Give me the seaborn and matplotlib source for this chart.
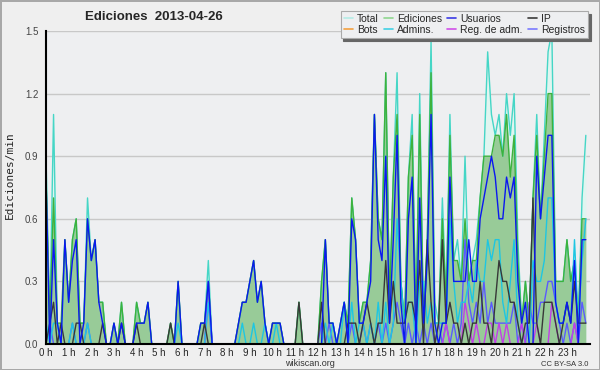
import numpy as np
import pandas as pd
import seaborn as sns
import matplotlib.pyplot as plt
from matplotlib.ticker import MultipleLocator, FixedLocator

# edits per minute, one value per 10 minute slot (144 slots)
total = [
    0.9, 0.1, 1.1, 0.1, 0.0, 0.5, 0.2, 0.5, 0.6, 0.1, 0.1, 0.7,
    0.4, 0.5, 0.2, 0.2, 0.0, 0.0, 0.1, 0.0, 0.2, 0.0, 0.0, 0.0,
    0.2, 0.1, 0.1, 0.2, 0.0, 0.0, 0.0, 0.0, 0.0, 0.1, 0.0, 0.3,
    0.0, 0.0, 0.0, 0.0, 0.0, 0.1, 0.1, 0.4, 0.0, 0.0, 0.0, 0.0,
    0.0, 0.0, 0.0, 0.1, 0.2, 0.2, 0.3, 0.4, 0.2, 0.3, 0.1, 0.0,
    0.1, 0.1, 0.1, 0.0, 0.0, 0.0, 0.0, 0.2, 0.0, 0.0, 0.0, 0.0,
    0.0, 0.3, 0.5, 0.1, 0.1, 0.0, 0.1, 0.2, 0.1, 0.7, 0.5, 0.1,
    0.2, 0.2, 0.4, 1.1, 0.6, 0.5, 1.3, 0.2, 0.8, 1.3, 0.3, 0.1,
    0.8, 1.1, 0.1, 1.2, 0.1, 0.5, 1.45, 0.2, 0.1, 0.7, 0.2, 1.1,
    0.4, 0.5, 0.3, 0.9, 0.3, 0.4, 0.5, 0.7, 0.9, 1.4, 1.1, 1.0,
    1.1, 0.9, 1.2, 1.0, 1.2, 0.5, 0.1, 0.3, 0.1, 0.7, 1.1, 0.6,
    1.0, 1.4, 1.5, 0.3, 0.3, 0.3, 0.5, 0.3, 0.4, 0.1, 0.7, 1.0,
]
ediciones = [
    0.8, 0.1, 0.7, 0.1, 0.1, 0.5, 0.2, 0.5, 0.6, 0.1, 0.1, 0.6,
    0.4, 0.5, 0.2, 0.2, 0.0, 0.0, 0.1, 0.0, 0.2, 0.0, 0.0, 0.0,
    0.2, 0.1, 0.1, 0.2, 0.0, 0.0, 0.0, 0.0, 0.0, 0.1, 0.0, 0.3,
    0.0, 0.0, 0.0, 0.0, 0.0, 0.1, 0.1, 0.3, 0.0, 0.0, 0.0, 0.0,
    0.0, 0.0, 0.0, 0.1, 0.2, 0.2, 0.3, 0.4, 0.2, 0.3, 0.1, 0.0,
    0.1, 0.1, 0.1, 0.0, 0.0, 0.0, 0.0, 0.2, 0.0, 0.0, 0.0, 0.0,
    0.0, 0.3, 0.5, 0.1, 0.1, 0.0, 0.1, 0.2, 0.1, 0.7, 0.5, 0.1,
    0.2, 0.2, 0.4, 1.1, 0.6, 0.5, 1.3, 0.2, 0.8, 1.1, 0.3, 0.1,
    0.8, 1.0, 0.1, 1.1, 0.1, 0.5, 1.3, 0.1, 0.1, 0.6, 0.2, 1.0,
    0.4, 0.4, 0.3, 0.6, 0.3, 0.4, 0.4, 0.7, 0.9, 0.9, 0.9, 1.0,
    1.0, 0.9, 1.1, 0.8, 1.0, 0.4, 0.1, 0.3, 0.1, 0.7, 1.0, 0.6,
    0.9, 1.2, 1.2, 0.3, 0.3, 0.3, 0.5, 0.3, 0.4, 0.1, 0.6, 0.6,
]
usuarios = [
    0.8, 0.0, 0.5, 0.1, 0.0, 0.5, 0.2, 0.4, 0.5, 0.0, 0.1, 0.6,
    0.4, 0.5, 0.2, 0.1, 0.0, 0.0, 0.1, 0.0, 0.1, 0.0, 0.0, 0.0,
    0.1, 0.1, 0.1, 0.2, 0.0, 0.0, 0.0, 0.0, 0.0, 0.0, 0.0, 0.3,
    0.0, 0.0, 0.0, 0.0, 0.0, 0.1, 0.1, 0.3, 0.0, 0.0, 0.0, 0.0,
    0.0, 0.0, 0.0, 0.1, 0.2, 0.2, 0.3, 0.4, 0.2, 0.3, 0.1, 0.0,
    0.1, 0.1, 0.1, 0.0, 0.0, 0.0, 0.0, 0.0, 0.0, 0.0, 0.0, 0.0,
    0.0, 0.0, 0.5, 0.1, 0.1, 0.0, 0.1, 0.2, 0.0, 0.6, 0.5, 0.1,
    0.1, 0.2, 0.3, 1.1, 0.5, 0.4, 0.9, 0.1, 0.5, 1.0, 0.2, 0.0,
    0.6, 0.8, 0.0, 0.7, 0.1, 0.4, 1.1, 0.1, 0.0, 0.1, 0.1, 0.8,
    0.3, 0.3, 0.3, 0.3, 0.5, 0.3, 0.3, 0.6, 0.7, 0.8, 0.9, 0.8,
    0.6, 0.6, 0.8, 0.7, 0.8, 0.3, 0.1, 0.2, 0.0, 0.0, 0.9, 0.6,
    0.8, 1.0, 1.0, 0.2, 0.1, 0.1, 0.2, 0.1, 0.4, 0.0, 0.5, 0.5,
]
ip = [
    0.0, 0.1, 0.2, 0.0, 0.1, 0.0, 0.0, 0.0, 0.1, 0.1, 0.0, 0.0,
    0.0, 0.0, 0.0, 0.1, 0.0, 0.0, 0.0, 0.0, 0.1, 0.0, 0.0, 0.0,
    0.1, 0.0, 0.0, 0.0, 0.0, 0.0, 0.0, 0.0, 0.0, 0.1, 0.0, 0.0,
    0.0, 0.0, 0.0, 0.0, 0.0, 0.0, 0.1, 0.0, 0.0, 0.0, 0.0, 0.0,
    0.0, 0.0, 0.0, 0.0, 0.0, 0.0, 0.0, 0.0, 0.0, 0.0, 0.0, 0.0,
    0.0, 0.0, 0.0, 0.0, 0.0, 0.0, 0.0, 0.2, 0.0, 0.0, 0.0, 0.0,
    0.0, 0.2, 0.0, 0.0, 0.0, 0.0, 0.0, 0.0, 0.1, 0.1, 0.1, 0.0,
    0.1, 0.2, 0.1, 0.0, 0.1, 0.1, 0.4, 0.1, 0.3, 0.1, 0.1, 0.1,
    0.2, 0.2, 0.1, 0.4, 0.0, 0.5, 0.2, 0.0, 0.1, 0.5, 0.1, 0.2,
    0.1, 0.1, 0.0, 0.1, 0.0, 0.1, 0.1, 0.3, 0.1, 0.1, 0.0, 0.2,
    0.4, 0.3, 0.3, 0.2, 0.2, 0.1, 0.0, 0.1, 0.1, 0.7, 0.1, 0.0,
    0.2, 0.2, 0.2, 0.1, 0.0, 0.1, 0.2, 0.1, 0.3, 0.1, 0.1, 0.1,
]
admins = [
    0.1, 0.0, 0.1, 0.1, 0.0, 0.0, 0.0, 0.1, 0.0, 0.0, 0.0, 0.1,
    0.0, 0.0, 0.0, 0.0, 0.0, 0.0, 0.0, 0.0, 0.0, 0.0, 0.0, 0.0,
    0.0, 0.0, 0.0, 0.0, 0.0, 0.0, 0.0, 0.0, 0.0, 0.0, 0.0, 0.1,
    0.0, 0.0, 0.0, 0.0, 0.0, 0.0, 0.0, 0.2, 0.0, 0.0, 0.0, 0.0,
    0.0, 0.0, 0.0, 0.0, 0.1, 0.0, 0.0, 0.1, 0.0, 0.0, 0.1, 0.0,
    0.0, 0.1, 0.0, 0.0, 0.0, 0.0, 0.0, 0.0, 0.0, 0.0, 0.0, 0.0,
    0.0, 0.0, 0.1, 0.0, 0.1, 0.0, 0.0, 0.2, 0.0, 0.2, 0.0, 0.1,
    0.1, 0.0, 0.1, 0.0, 0.2, 0.0, 0.2, 0.0, 0.1, 0.6, 0.3, 0.1,
    0.2, 0.2, 0.0, 0.3, 0.3, 0.1, 0.2, 0.1, 0.1, 0.1, 0.1, 0.6,
    0.3, 0.1, 0.2, 0.2, 0.3, 0.2, 0.4, 0.3, 0.3, 0.5, 0.4, 0.5,
    0.5, 0.2, 0.1, 0.3, 0.5, 0.1, 0.0, 0.0, 0.0, 0.4, 0.3, 0.3,
    0.4, 0.7, 0.7, 0.2, 0.1, 0.1, 0.2, 0.1, 0.5, 0.1, 0.4, 0.6,
]
registros = [
    0.0, 0.1, 0.0, 0.0, 0.0, 0.0, 0.0, 0.1, 0.0, 0.0, 0.0, 0.1,
    0.0, 0.0, 0.0, 0.0, 0.0, 0.0, 0.0, 0.0, 0.0, 0.0, 0.0, 0.0,
    0.0, 0.0, 0.0, 0.0, 0.0, 0.0, 0.0, 0.0, 0.0, 0.0, 0.0, 0.0,
    0.0, 0.0, 0.0, 0.0, 0.0, 0.0, 0.0, 0.3, 0.0, 0.0, 0.0, 0.0,
    0.0, 0.0, 0.0, 0.0, 0.0, 0.0, 0.0, 0.0, 0.0, 0.0, 0.0, 0.0,
    0.0, 0.0, 0.0, 0.0, 0.0, 0.0, 0.0, 0.0, 0.0, 0.0, 0.0, 0.0,
    0.0, 0.1, 0.0, 0.1, 0.0, 0.0, 0.0, 0.0, 0.0, 0.1, 0.0, 0.0,
    0.1, 0.0, 0.1, 0.0, 0.1, 0.0, 0.1, 0.0, 0.1, 0.2, 0.1, 0.0,
    0.1, 0.0, 0.1, 0.0, 0.1, 0.0, 0.1, 0.0, 0.1, 0.0, 0.1, 0.0,
    0.1, 0.0, 0.1, 0.5, 0.2, 0.1, 0.2, 0.1, 0.3, 0.1, 0.2, 0.1,
    0.1, 0.1, 0.1, 0.1, 0.2, 0.0, 0.1, 0.0, 0.2, 0.1, 0.1, 0.2,
    0.2, 0.3, 0.3, 0.2, 0.1, 0.0, 0.1, 0.0, 0.1, 0.0, 0.2, 0.1,
]
reg_adm = [0.0] * 144
for slot, v in [(43, 0.2), (106, 0.1), (111, 0.2), (112, 0.1), (114, 0.1),
                (117, 0.1), (118, 0.1), (120, 0.1), (122, 0.1), (126, 0.1),
                (130, 0.1), (134, 0.2), (135, 0.1), (140, 0.1)]:
    reg_adm[slot] = v
bots = [0.0] * 144

hour_labels = [f"{h} h" for h in range(24)]

df = pd.DataFrame({
    "hora": np.arange(0, 1440, 10) / 60,
    "Total": total, "Ediciones": ediciones, "Usuarios": usuarios, "IP": ip,
    "Bots": bots, "Admins.": admins, "Reg. de adm.": reg_adm, "Registros": registros,
})

colors = {
    "Total": "#45d6c6", "Ediciones": "#3db23d", "Usuarios": "#0a18f0",
    "IP": "#383838", "Bots": "#f0a030", "Admins.": "#1ec6e2",
    "Reg. de adm.": "#c23ee8", "Registros": "#5a5aff",
}
legend_colors = {
    "Total": "#b4ece6", "Ediciones": "#8fd68f", "Usuarios": "#3a3ae6",
    "IP": "#3a3a3a", "Bots": "#f4a040", "Admins.": "#40d0e4",
    "Reg. de adm.": "#d050e8", "Registros": "#7a7aff",
}

sns.set_style("white", {"axes.facecolor": "#eeeff1"})
plt.rcParams["font.family"] = ["Liberation Sans", "DejaVu Sans"]

fig = plt.figure(figsize=(6, 3.7), dpi=100, facecolor="#efefef")
ax = fig.add_axes([46 / 600, 1 - 344 / 370, 543.6 / 600, 313 / 370])

# filled areas first
ax.fill_between(df["hora"], df["Total"], color="#e0f5f0", lw=0, zorder=1)
ax.fill_between(df["hora"], df["Ediciones"], color="#98cb98", lw=0, zorder=1.5)

for name in ["Bots", "Total", "Ediciones", "Registros", "Reg. de adm.", "Admins.", "IP", "Usuarios"]:
    sns.lineplot(data=df, x="hora", y=name, ax=ax, color=colors[name],
                 linewidth=1.0, label=name, zorder=2)

ax.set_xlim(0, 24)
ax.set_ylim(0, 1.5)
ax.set_xlabel("")
ax.set_ylabel("")
ax.xaxis.set_major_locator(FixedLocator(range(24)))
ax.set_xticklabels(hour_labels)
ax.xaxis.set_minor_locator(MultipleLocator(1 / 6))
ax.yaxis.set_major_locator(MultipleLocator(0.3))
ax.yaxis.set_minor_locator(MultipleLocator(0.075))
ax.yaxis.set_major_formatter(plt.FormatStrFormatter("%.1f"))
ax.grid(axis="y", color="#c8c8c8", lw=1, zorder=0)
ax.set_axisbelow(True)
ax.tick_params(axis="both", which="both", direction="out", color="black",
               labelsize=7, pad=0.5, width=1)
ax.tick_params(axis="y", which="major", length=5, labelcolor="#444444")
ax.tick_params(axis="y", which="minor", length=3)
ax.tick_params(axis="x", which="major", length=3, labelsize=7, pad=0)
ax.tick_params(axis="x", which="minor", length=3)
for s in ["top", "right"]:
    ax.spines[s].set_visible(False)
for s in ["left", "bottom"]:
    ax.spines[s].set_color("black")
    ax.spines[s].set_linewidth(1.5)
    ax.spines[s].set_zorder(5)

fig.text(10 / 600, 1 - 175 / 370, "Ediciones/min", rotation=90, fontsize=8,
         ha="center", va="center", family="DejaVu Sans Mono")
fig.text(154 / 600, 1 - 17 / 370, "Ediciones  2013-04-26", fontsize=9.5,
         fontweight="bold", ha="center", va="center")
fig.text(310 / 600, 1 - 364 / 370, "wikiscan.org", fontsize=6.5, ha="center",
         va="center", color="#333333")
fig.text(565 / 600, 1 - 364 / 370, "CC BY-SA 3.0", fontsize=5.5, ha="center",
         va="center", color="#333333")

order = ["Total", "Bots", "Ediciones", "Admins.", "Usuarios", "Reg. de adm.", "IP", "Registros"]
handles = [plt.Line2D([], [], color=legend_colors[k], lw=1.2) for k in order]
ax.get_legend().remove()
leg = fig.legend(handles, order, ncol=4, loc="upper right",
                 bbox_to_anchor=(588 / 600, 1 - 11 / 370),
                 fontsize=7.5, frameon=True, fancybox=False,
                 shadow={"color": "#666666", "alpha": 1},
                 handlelength=0.9, handletextpad=0.4, columnspacing=0.45,
                 labelspacing=0.1, borderpad=0.28, borderaxespad=0)
leg.get_frame().set_edgecolor("#aaaaaa")
leg.get_frame().set_linewidth(0.8)
leg.set_zorder(10)

fig.patch.set_edgecolor("#a8a8a8")
fig.patch.set_linewidth(2)
fig.savefig("out.png", dpi=100, facecolor=fig.get_facecolor(), edgecolor=fig.get_edgecolor())
